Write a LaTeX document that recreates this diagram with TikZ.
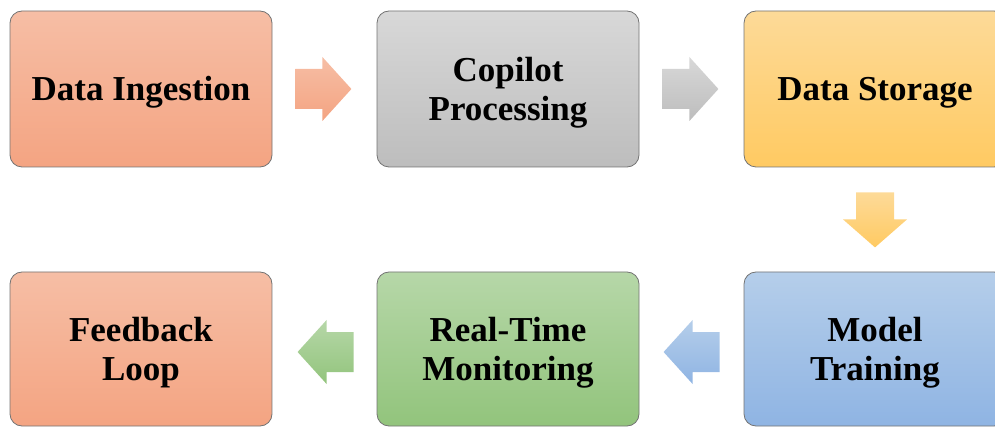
\documentclass[tikz,border=0pt]{standalone}
\usepackage{fontspec}
\setmainfont{Liberation Serif}
\usetikzlibrary{calc}
\definecolor{orT}{HTML}{F6BEA5}
\definecolor{orB}{HTML}{F4A482}
\definecolor{grT}{HTML}{D8D8D8}
\definecolor{grB}{HTML}{BDBDBD}
\definecolor{yeT}{HTML}{FDDA98}
\definecolor{yeB}{HTML}{FFCA62}
\definecolor{blT}{HTML}{B5CEEA}
\definecolor{blB}{HTML}{8FB4E3}
\definecolor{gnT}{HTML}{B6D7A8}
\definecolor{gnB}{HTML}{92C47C}
\newcommand{\upstrut}{\rule{0pt}{31pt}}
\newcommand{\rblk}[3]{\path[top color=#2,bottom color=#3] (#1) ++(0,-20) -- ++(27,0) -- ++(0,-12) -- ++(29,32) -- ++(-29,32) -- ++(0,-12) -- ++(-27,0) -- cycle;}
\newcommand{\lblk}[3]{\path[top color=#2,bottom color=#3] (#1) ++(0,-20) -- ++(-27,0) -- ++(0,-12) -- ++(-29,32) -- ++(29,32) -- ++(0,-12) -- ++(27,0) -- cycle;}
\newcommand{\dblk}[3]{\path[top color=#2,bottom color=#3] (#1) ++(-19,0) -- ++(0,27) -- ++(-13,0) -- ++(32,28) -- ++(32,-28) -- ++(-13,0) -- ++(0,-27) -- cycle;}
\begin{document}
\begin{tikzpicture}[x=1pt,y=-1pt,
  box/.style={rounded corners=12pt, draw=black!55, line width=0.8pt,
    minimum width=262pt, minimum height=156pt, align=center, inner sep=0pt,
    font=\fontsize{35}{39}\selectfont\bfseries}]
\useasboundingbox (0,0) rectangle (995,427);
\clip (0,0) rectangle (995,427);
\node[box, top color=orT, bottom color=orB] (n1) at (141,89) {\upstrut Data Ingestion};
\node[box, top color=grT, bottom color=grB] (n2) at (508,89) {\upstrut Copilot\\Processing};
\node[box, top color=yeT, bottom color=yeB] (n3) at (875,89) {\upstrut Data Storage};
\node[box, top color=blT, bottom color=blB, minimum height=154pt] (n4) at (875,349) {\upstrut Model\\Training};
\node[box, top color=gnT, bottom color=gnB, minimum height=154pt] (n5) at (508,349) {\upstrut Real-Time\\Monitoring};
\node[box, top color=orT, bottom color=orB, minimum height=154pt] (n6) at (141,349) {\upstrut Feedback\\Loop};
\coordinate (s1) at ($(n1.east)+(23,0)$);
\coordinate (s2) at ($(n2.east)+(23,0)$);
\coordinate (s3) at ($(n3.south)+(0,25)$);
\coordinate (s4) at ($(n4.west)+(-24,3)$);
\coordinate (s5) at ($(n5.west)+(-23,3)$);
\rblk{s1}{orT}{orB}
\rblk{s2}{grT}{grB}
\dblk{s3}{yeT}{yeB}
\lblk{s4}{blT}{blB}
\lblk{s5}{gnT}{gnB}
\end{tikzpicture}
\end{document}
